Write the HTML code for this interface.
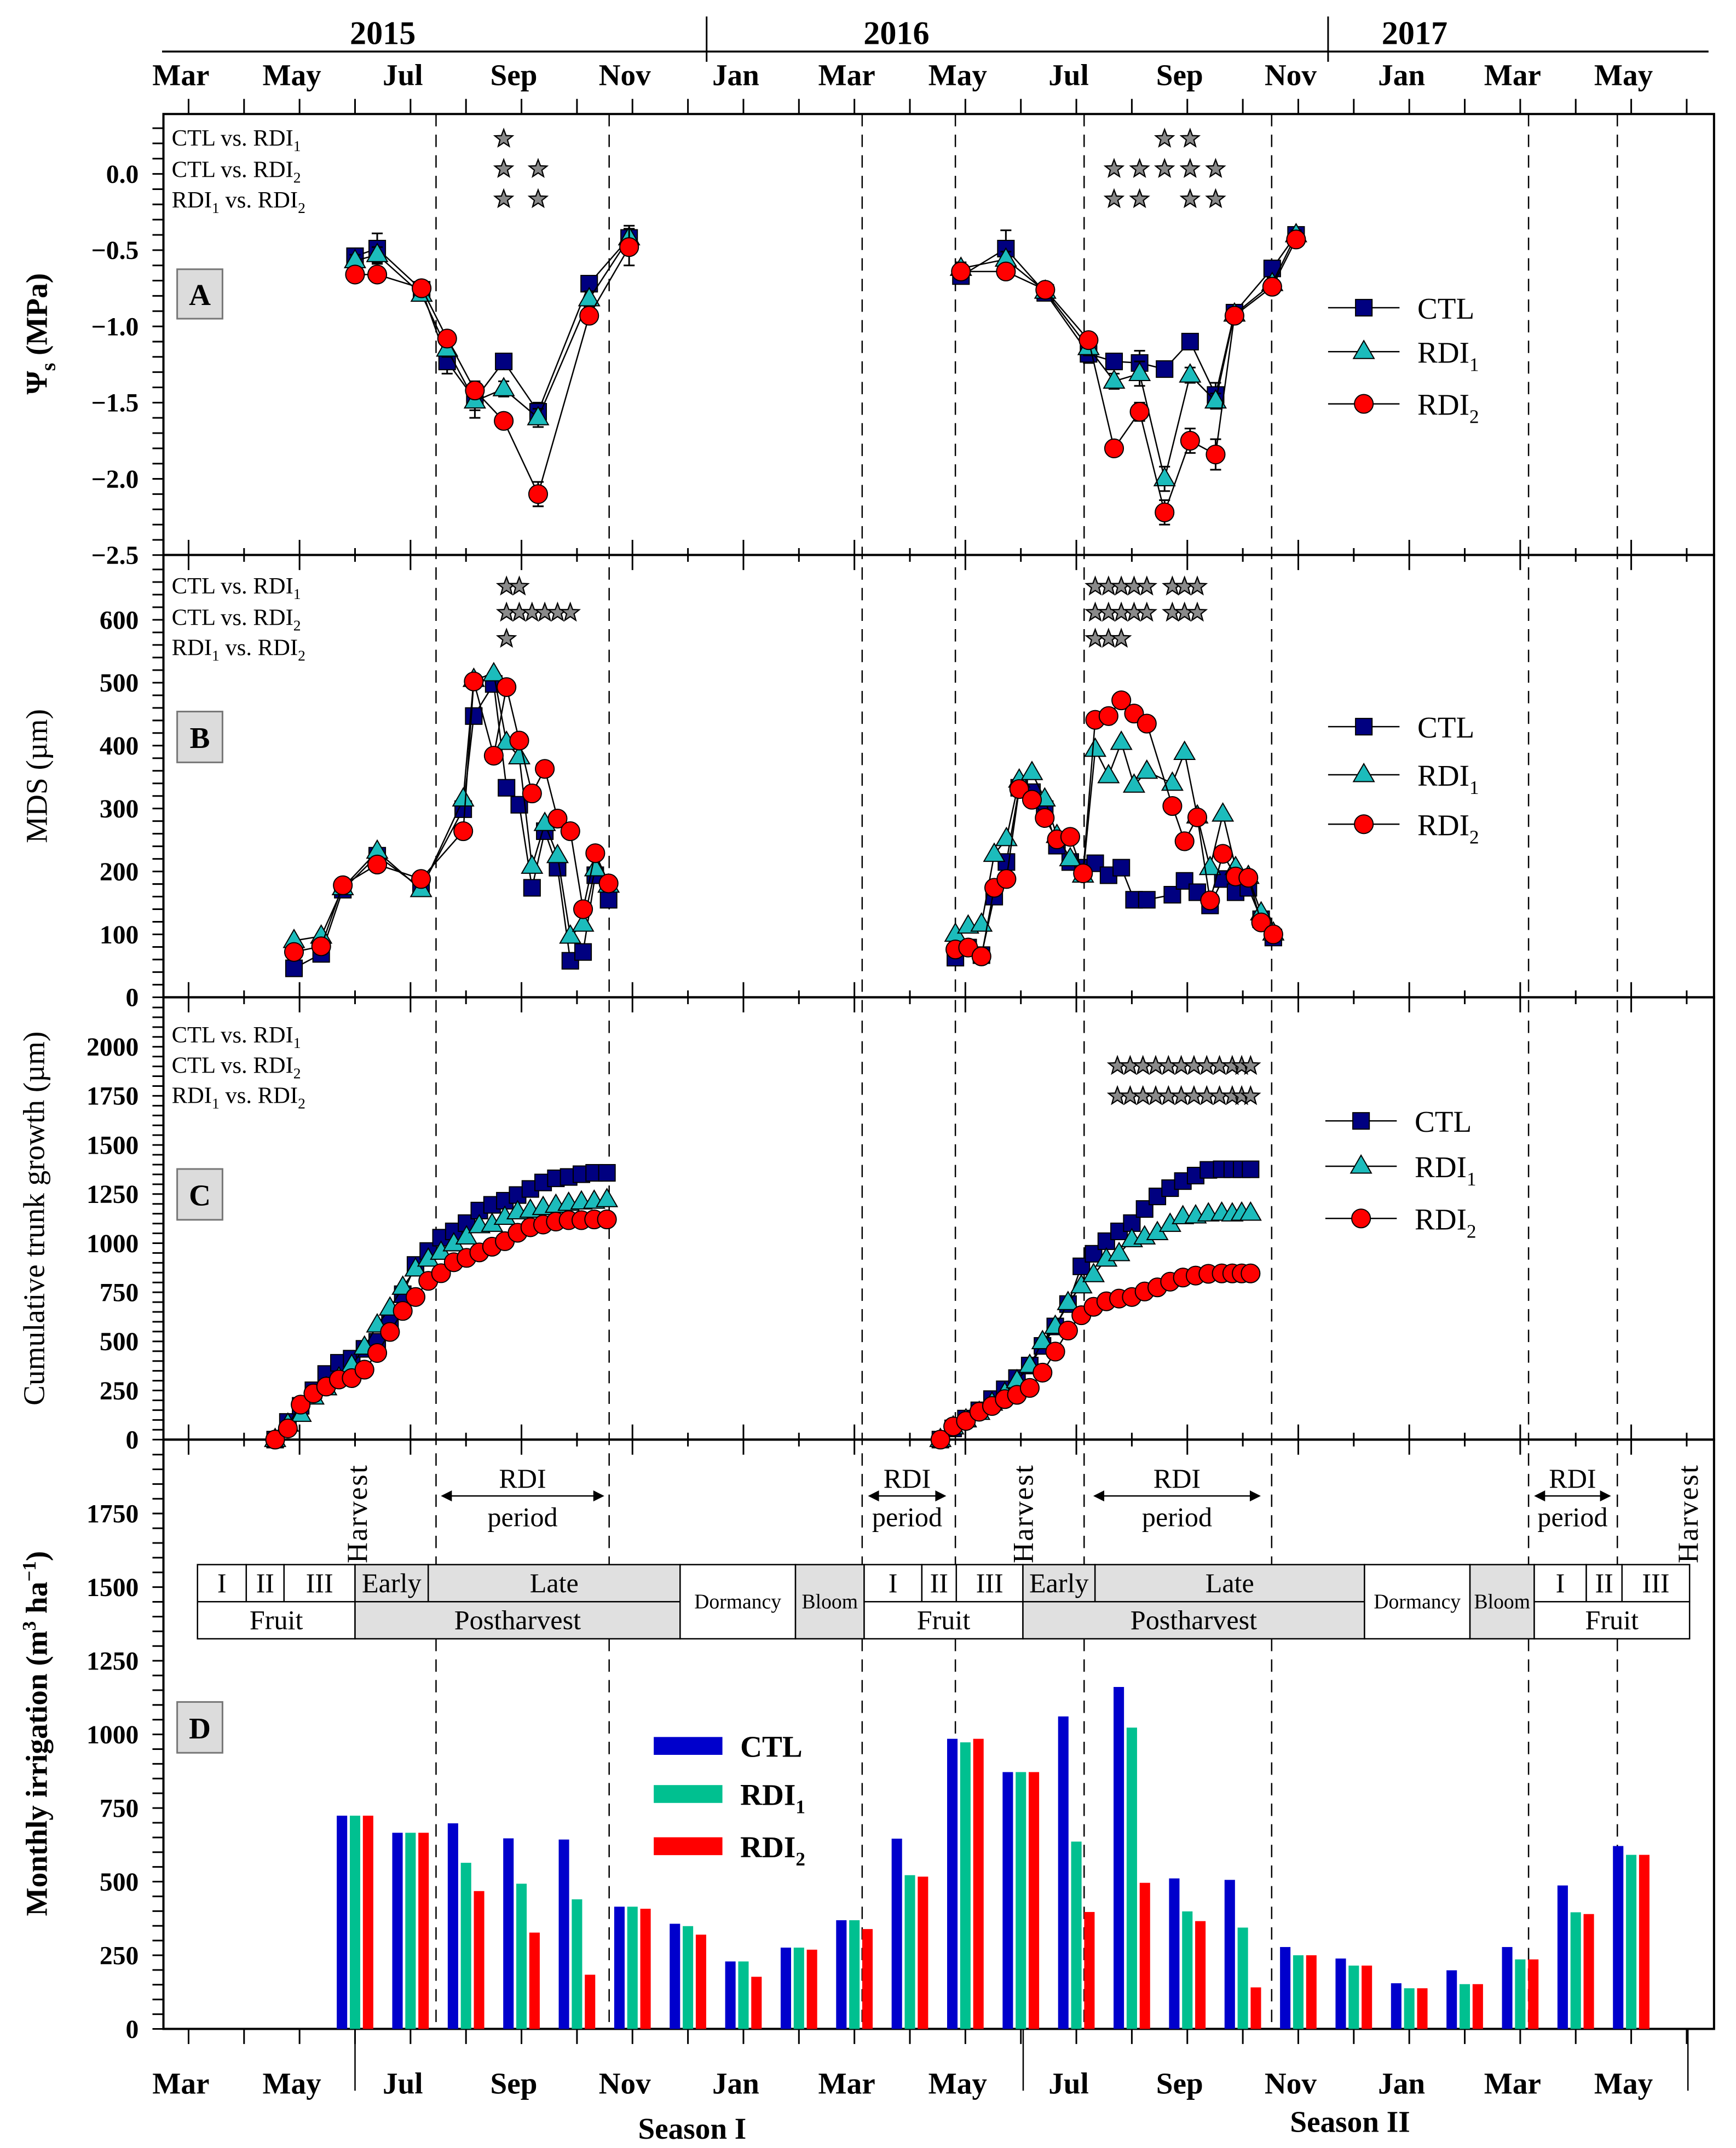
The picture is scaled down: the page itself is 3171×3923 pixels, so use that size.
<!DOCTYPE html>
<html><head><meta charset="utf-8">
<style>
html,body{margin:0;padding:0;background:#fff;}
svg{display:block;}
text{font-family:"Liberation Serif",serif;fill:#000;}
</style></head>
<body>
<svg id="chart" xmlns="http://www.w3.org/2000/svg" width="3171" height="3923" viewBox="0 0 1264 1563.7" preserveAspectRatio="none">
<rect x="0" y="0" width="1264" height="1564" fill="#fff"/>
<g id="g-grid"></g>
<g id="g-axes"></g>
<g id="g-table"></g>
<g id="g-marks"></g>
<g id="g-text">
  <text x="278.7" y="32" font-size="24" font-weight="bold" text-anchor="middle">2015</text>
  <text x="652.7" y="32" font-size="24" font-weight="bold" text-anchor="middle">2016</text>
  <text x="1030" y="32" font-size="24" font-weight="bold" text-anchor="middle">2017</text>
  <text transform="translate(34,243) rotate(-90)" font-size="22" font-weight="bold" text-anchor="middle">Ψ<tspan font-size="15" dy="6">s</tspan><tspan dy="-6"> (MPa)</tspan></text>
  <text transform="translate(34,565) rotate(-90)" font-size="22" text-anchor="middle">MDS (µm)</text>
  <text transform="translate(32,887) rotate(-90)" font-size="22" text-anchor="middle">Cumulative trunk growth (µm)</text>
  <text transform="translate(34,1262) rotate(-90)" font-size="22" font-weight="bold" text-anchor="middle">Monthly irrigation (m<tspan font-size="14" dy="-8">3</tspan><tspan dy="8"> ha</tspan><tspan font-size="14" dy="-8">−1</tspan><tspan dy="8">)</tspan></text>
  <text x="504" y="1557" font-size="22" font-weight="bold" text-anchor="middle">Season I</text>
  <text x="983" y="1552" font-size="22" font-weight="bold" text-anchor="middle">Season II</text>
</g>
</svg>
<script>
// ---------- data ----------
// x = months since 1 Mar 2015
const seasonLines = [4.46, 7.58, 12.14, 13.82, 16.14, 19.52, 24.15, 25.75];
const monthLabels = ["Mar","May","Jul","Sep","Nov","Jan","Mar","May","Jul","Sep","Nov","Jan","Mar","May"];

// Panel A: stem water potential (MPa)
const aDates = [3.00,3.40,4.20,4.66,5.16,5.68,6.30,7.22,7.94, 13.92,14.73,15.44,16.22,16.68,17.14,17.59,18.05,18.51,18.85,19.53,19.96];
const aCTL  = [-0.54,-0.49,-0.76,-1.23,-1.48,-1.23,-1.56,-0.72,-0.42, -0.67,-0.49,-0.78,-1.18,-1.23,-1.24,-1.28,-1.10,-1.45,-0.91,-0.62,-0.40];
const aRDI1 = [-0.57,-0.53,-0.79,-1.15,-1.49,-1.41,-1.60,-0.82,-0.42, -0.62,-0.56,-0.77,-1.14,-1.36,-1.31,-2.00,-1.32,-1.49,-0.92,-0.72,-0.40];
const aRDI2 = [-0.66,-0.66,-0.75,-1.08,-1.42,-1.62,-2.10,-0.93,-0.48, -0.64,-0.64,-0.76,-1.09,-1.80,-1.56,-2.22,-1.75,-1.84,-0.93,-0.74,-0.43];
const aErrCTL  = [0.04,0.10,0.05,0.08,0.12,0.04,0.06,0.05,0.08, 0.05,0.12,0.05,0.06,0.04,0.08,0.05,0.04,0.08,0.04,0.05,0.03];
const aErrRDI1 = [0.04,0.05,0.04,0.05,0.06,0.05,0.06,0.05,0.06, 0.04,0.05,0.04,0.05,0.05,0.08,0.08,0.05,0.05,0.04,0.04,0.03];
const aErrRDI2 = [0.03,0.03,0.04,0.04,0.05,0.04,0.08,0.04,0.12, 0.04,0.04,0.04,0.04,0.05,0.06,0.08,0.08,0.10,0.04,0.04,0.03];
const aStars1 = [5.68, 17.59,18.05];
const aStars2 = [5.68,6.30, 16.68,17.14,17.59,18.05,18.51];
const aStars3 = [5.68,6.30, 16.68,17.14,18.05,18.51];

// Panel B: MDS (µm)
const bDates = [1.90,2.39,2.78,3.40,4.19,4.95,5.14,5.50,5.73,5.96,6.19,6.42,6.65,6.88,7.11,7.33,7.57,
  13.82,14.05,14.29,14.52,14.74,14.97,15.20,15.43,15.65,15.89,16.12,16.34,16.58,16.81,17.04,17.27,17.73,17.95,18.18,18.41,18.64,18.87,19.10,19.33,19.55];
const bCTL  = [46,69,171,225,174,299,447,498,333,306,174,264,206,58,72,194,155,
  63,79,67,160,215,333,326,299,241,215,206,213,194,206,155,155,163,185,167,146,188,167,174,124,95];
const bRDI1 = [90,97,174,232,171,315,505,514,405,382,208,276,225,97,116,204,178,
  100,113,116,227,252,345,357,315,257,220,194,394,352,405,337,359,340,389,288,206,291,206,192,134,102];
const bRDI2 = [72,81,178,211,188,264,502,384,493,408,324,363,284,264,140,229,181,
  76,79,65,174,188,331,314,285,251,255,197,441,447,472,451,435,304,248,286,154,228,192,190,119,100];
const bStars1 = [5.73,5.96, 16.34,16.58,16.81,17.04,17.27,17.73,17.95,18.18];
const bStars2 = [5.73,5.96,6.19,6.42,6.65,6.88, 16.34,16.58,16.81,17.04,17.27,17.73,17.95,18.18];
const bStars3 = [5.73, 16.34,16.58,16.81];

// Panel C: cumulative trunk growth (µm)
const cDates1 = [1.56,1.79,2.02,2.25,2.48,2.71,2.94,3.17,3.40,3.63,3.86,4.09,4.32,4.55,4.78,5.01,5.24,5.47,5.70,5.93,6.16,6.39,6.62,6.85,7.08,7.31,7.54];
const cCTL1  = [0,90,172,251,334,391,412,462,498,604,740,889,960,1028,1060,1102,1166,1195,1216,1245,1276,1309,1330,1337,1351,1358,1358];
const cRDI11 = [0,78,128,216,263,313,377,470,583,669,775,868,918,953,996,1031,1088,1095,1131,1159,1167,1181,1192,1202,1209,1213,1221];
const cRDI21 = [0,57,178,235,270,306,313,356,441,548,655,726,808,847,903,925,953,982,1010,1053,1081,1095,1110,1117,1117,1121,1121];
const cDates2 = [13.55,13.78,14.01,14.25,14.48,14.71,14.93,15.16,15.39,15.62,15.85,16.09,16.31,16.54,16.77,17.00,17.23,17.46,17.69,17.92,18.15,18.38,18.62,18.81,18.98,19.14];
const cCTL2  = [0,57,107,149,206,256,313,377,477,576,690,882,946,1010,1060,1102,1174,1238,1280,1316,1344,1373,1376,1376,1376,1376];
const cRDI12 = [0,64,100,138,185,235,299,377,498,576,697,782,839,918,946,1017,1031,1053,1095,1134,1138,1148,1152,1148,1152,1152];
const cRDI22 = [0,67,95,142,171,206,228,263,341,448,555,633,676,704,718,726,754,775,804,825,835,844,846,846,846,846];
const cStars = [16.74,16.97,17.20,17.43,17.66,17.89,18.12,18.35,18.58,18.81,18.98,19.14];

// Panel D: monthly irrigation (m3/ha), months Jun 2015 .. May 2017
const dMonths = [3,4,5,6,7,8,9,10,11,12,13,14,15,16,17,18,19,20,21,22,23,24,25,26];
const dCTL  = [724,666,698,647,643,415,357,229,276,369,646,985,872,1061,1161,511,506,278,239,155,199,278,487,621];
const dRDI1 = [724,666,564,493,440,415,349,229,276,369,522,973,872,636,1023,399,344,250,215,138,152,236,396,591];
const dRDI2 = [724,666,468,327,184,408,320,177,269,339,517,985,872,397,496,366,141,250,215,138,152,236,390,591];

// ---------- scales ----------
const NS = "http://www.w3.org/2000/svg";
const X  = t => 137.3 + 40.4 * t;
const yA = v => 126.6 - v * 111;
const yB = v => 726 - v * 0.458;
const yC = v => 1048 - v * 0.143;
const yD = v => 1477 - v * 0.2144;
const L = 119, R = 1248;
const COL = {ctl:"#000080", r1:"#1cbcbc", r2:"#ff0000"};

function mk(tag, attrs, parent){
  const el = document.createElementNS(NS, tag);
  for (const k in attrs) el.setAttribute(k, attrs[k]);
  parent.appendChild(el);
  return el;
}
const gGrid = document.getElementById('g-grid');
const gAxes = document.getElementById('g-axes');
const gTable = document.getElementById('g-table');
const gMarks = document.getElementById('g-marks');
const gText = document.getElementById('g-text');

// season dashed lines
seasonLines.forEach(t => {
  const el = mk('line', {x1:X(t), x2:X(t), y1:83, y2:1477, stroke:'#000', 'stroke-width':1, 'stroke-dasharray':'9,6'}, gGrid);
  
  
});

// frames
[[83,404,'a'],[404,726,'b'],[726,1048,'c'],[1048,1477,'d']].forEach(p => {
  const el = mk('rect', {x:L, y:p[0], width:R-L, height:p[1]-p[0], fill:'none', stroke:'#000', 'stroke-width':1.6}, gAxes);
  
  
});
// top axis line & year separators
let tl = mk('line', {x1:118, x2:1244, y1:37.5, y2:37.5, stroke:'#000', 'stroke-width':1.4}, gAxes);


[514.5, 967].forEach(x => {
  const el = mk('line', {x1:x, x2:x, y1:12, y2:45, stroke:'#000', 'stroke-width':1.2}, gAxes);
  
  
});
// month ticks
for (let k = 0; k <= 27; k++) {
  const x = X(k);
  const top = mk('line', {x1:x, x2:x, y1:72, y2:83, stroke:'#000', 'stroke-width':1.2}, gAxes);
  
  
  const bot = mk('line', {x1:x, x2:x, y1:1477, y2:1488, stroke:'#000', 'stroke-width':1.2}, gAxes);
  
  
  const len = (k % 2 === 0) ? 11 : 5;
  [404, 726, 1048].forEach(y => {
    const el = mk('line', {x1:x, x2:x, y1:y-len, y2:y+len, stroke:'#000', 'stroke-width':1.2}, gAxes);
    
    
  });
}
monthLabels.forEach((m, j) => {
  const x = X(2*j) - 5.6;
  const t1 = mk('text', {x:x, y:62, 'font-size':22, 'font-weight':'bold', 'text-anchor':'middle'}, gText);
  t1.textContent = m;
  
  
  const t2 = mk('text', {x:x, y:1524, 'font-size':22, 'font-weight':'bold', 'text-anchor':'middle'}, gText);
  t2.textContent = m;
  
  
});
[258.5, 745, 1229].forEach(x => {
  const el = mk('line', {x1:x, x2:x, y1:1477, y2:1522, stroke:'#000', 'stroke-width':1}, gAxes);
  
  
});

// y axes
function yAxis(scale, lo, hi, minorStep, majorStep, fmt, top, bottom, name){
  const n = Math.floor((hi - lo) / minorStep + 1e-6);
  for (let i = 0; i <= n; i++) {
    const v = lo + i * minorStep;
    const y = scale(v);
    if (y < top - 0.5 || y > bottom + 0.5) continue;
    const el = mk('line', {x1:L-8, x2:L, y1:y, y2:y, stroke:'#000', 'stroke-width':1.2}, gAxes);
    
    
    const r = v / majorStep;
    if (Math.abs(r - Math.round(r)) < 1e-6) {
      const tx = mk('text', {x:101, y:y+6.5, 'font-size':19, 'font-weight':'bold', 'text-anchor':'end'}, gText);
      tx.textContent = fmt(v);
      
      
    }
  }
}
yAxis(yA, -2.5, 0.3, 0.1, 0.5, v => (v < -0.001 ? '−' : '') + Math.abs(v).toFixed(1), 83, 404, 'y-axis-a');
yAxis(yB, 0, 680, 20, 100, v => String(Math.round(v)), 405, 726, 'y-axis-b');
yAxis(yC, 0, 2200, 50, 250, v => String(Math.round(v)), 727, 1048, 'y-axis-c');
yAxis(yD, 0, 1950, 50, 250, v => String(Math.round(v)), 1049, 1477, 'y-axis-d');

// panel letter boxes
[['A',196,232],['B',518,555],['C',851,888],['D',1239,1276]].forEach(p => {
  const r = mk('rect', {x:129, y:p[1], width:33, height:p[2]-p[1], fill:'#dcdcdc', stroke:'#777', 'stroke-width':1.2}, gText);
  
  
  const t = mk('text', {x:145.5, y:(p[1]+p[2])/2+8, 'font-size':22, 'font-weight':'bold', 'text-anchor':'middle'}, gText);
  t.textContent = p[0];
  
  
});

// comparison row labels
function compLabels(ys){
  const labs = [['CTL vs. RDI','1',''],['CTL vs. RDI','2',''],['RDI','1',' vs. RDI','2']];
  labs.forEach((lb, i) => {
    const t = mk('text', {x:125, y:ys[i]+5, 'font-size':17}, gText);
    
    
    if (i < 2) {
      t.innerHTML = lb[0] + '<tspan font-size="11" dy="4">' + lb[1] + '</tspan>';
    } else {
      t.innerHTML = 'RDI<tspan font-size="11" dy="4">1</tspan><tspan dy="-4"> vs. RDI</tspan><tspan font-size="11" dy="4">2</tspan>';
    }
  });
}
compLabels([101,124,146]);
compLabels([427,450,472]);
compLabels([754,776,798]);

// stars
function starPath(cx, cy, R0){
  let d = '';
  for (let i = 0; i < 10; i++) {
    const r = (i % 2 === 0) ? R0 : R0 * 0.42;
    const a = -Math.PI/2 + i * Math.PI / 5;
    d += (i === 0 ? 'M' : 'L') + (cx + r*Math.cos(a)).toFixed(2) + ',' + (cy + r*Math.sin(a)).toFixed(2);
  }
  return d + 'Z';
}
function stars(ts, y){
  ts.forEach(t => {
    const el = mk('path', {d:starPath(X(t), y, 6.8), fill:'#8a8a8a', stroke:'#000', 'stroke-width':0.9}, gMarks);
    
    
  });
}
stars(aStars1, 101); stars(aStars2, 123); stars(aStars3, 145);
stars(bStars1, 427); stars(bStars2, 446); stars(bStars3, 465);
stars(cStars, 776); stars(cStars, 798);

// markers
function marker(kind, x, y, parent, name){
  let el;
  if (kind === 'sq') el = mk('rect', {x:x-6, y:y-6, width:12, height:12, fill:COL.ctl, stroke:'#000', 'stroke-width':0.8}, parent);
  else if (kind === 'tri') el = mk('path', {d:`M${x},${y-8}L${x+7.5},${y+5}L${x-7.5},${y+5}Z`, fill:COL.r1, stroke:'#000', 'stroke-width':0.8}, parent);
  else el = mk('circle', {cx:x, cy:y, r:6.8, fill:COL.r2, stroke:'#000', 'stroke-width':0.8}, parent);
  
  
  return el;
}
function series(dates, vals, scale, kind, name, errs, breakAt){
  const g = mk('g', {}, gMarks);
  
  
  let segs = [[]];
  dates.forEach((t, i) => {
    if (breakAt !== undefined && i === breakAt) segs.push([]);
    segs[segs.length-1].push(X(t).toFixed(2) + ',' + scale(vals[i]).toFixed(2));
  });
  segs.forEach(s => {
    const pl = mk('polyline', {points:s.join(' '), fill:'none', stroke:'#000', 'stroke-width':1}, g);
    
    
  });
  if (errs) {
    dates.forEach((t, i) => {
      const x = X(t), y1 = scale(vals[i] + errs[i]), y2 = scale(vals[i] - errs[i]);
      const e = mk('path', {d:`M${x},${y1}L${x},${y2}M${x-4},${y1}L${x+4},${y1}M${x-4},${y2}L${x+4},${y2}`, stroke:'#000', 'stroke-width':1.2, fill:'none'}, g);
      
      
    });
  }
  dates.forEach((t, i) => marker(kind, X(t), scale(vals[i]), g, name + '-point'));
}
// Panel A
series(aDates, aCTL, yA, 'sq', 'a-ctl-series', aErrCTL, 9);
series(aDates, aRDI1, yA, 'tri', 'a-rdi1-series', aErrRDI1, 9);
series(aDates, aRDI2, yA, 'circ', 'a-rdi2-series', aErrRDI2, 9);
// Panel B
series(bDates, bCTL, yB, 'sq', 'b-ctl-series', null, 17);
series(bDates, bRDI1, yB, 'tri', 'b-rdi1-series', null, 17);
series(bDates, bRDI2, yB, 'circ', 'b-rdi2-series', null, 17);
// Panel C
series(cDates1, cCTL1, yC, 'sq', 'c-ctl-2015-series');
series(cDates1, cRDI11, yC, 'tri', 'c-rdi1-2015-series');
series(cDates1, cRDI21, yC, 'circ', 'c-rdi2-2015-series');
series(cDates2, cCTL2, yC, 'sq', 'c-ctl-2016-series');
series(cDates2, cRDI12, yC, 'tri', 'c-rdi1-2016-series');
series(cDates2, cRDI22, yC, 'circ', 'c-rdi2-2016-series');

// legends A-C
function legend(ys, x0){
  const items = [['sq','CTL',''],['tri','RDI','1'],['circ','RDI','2']];
  items.forEach((it, i) => {
    const y = ys[i];
    const ln = mk('line', {x1:x0, x2:x0+52, y1:y, y2:y, stroke:'#000', 'stroke-width':1}, gMarks);
    
    
    marker(it[0], x0+26, y, gMarks, 'legend-marker');
    const t = mk('text', {x:x0+65, y:y+8, 'font-size':22}, gText);
    t.innerHTML = it[1] + (it[2] ? '<tspan font-size="14" dy="6">' + it[2] + '</tspan>' : '');
    
    
  });
}
legend([224,256,294], 967);
legend([529,564,600], 967);
legend([816,849,887], 965);

// Panel D bars
const barCols = ['#0000cc', '#00c090', '#ff0000'];
const barSets = [dCTL, dRDI1, dRDI2];
const barNames = ['bar-ctl', 'bar-rdi1', 'bar-rdi2'];
dMonths.forEach((m, i) => {
  [-9.5, 0, 9.5].forEach((off, s) => {
    const v = barSets[s][i];
    const x = X(m) + off - 3.8;
    const el = mk('rect', {x:x, y:yD(v), width:7.6, height:yD(0)-yD(v), fill:barCols[s]}, gMarks);
    
    
  });
});
// D legend
[['CTL','',1271],['RDI','1',1306],['RDI','2',1344]].forEach((it, i) => {
  const r = mk('rect', {x:476, y:it[2]-6.5, width:50, height:13, fill:barCols[i]}, gMarks);
  
  
  const t = mk('text', {x:539, y:it[2]+8, 'font-size':22, 'font-weight':'bold'}, gText);
  t.innerHTML = it[0] + (it[1] ? '<tspan font-size="14" dy="6">' + it[1] + '</tspan>' : '');
  
  
});

// phenology table
const T0 = 1139, T1 = 1166, T2 = 1193;
const cells = [
  [143.8,179.3,T0,T1,'I',0,20],[179.3,206.8,T0,T1,'II',0,20],[206.8,258.5,T0,T1,'III',0,20],
  [258.5,311.8,T0,T1,'Early',1,20],[311.8,495.2,T0,T1,'Late',1,20],
  [143.8,258.5,T1,T2,'Fruit',0,20],[258.5,495.2,T1,T2,'Postharvest',1,20],
  [495.2,579.2,T0,T2,'Dormancy',0,15],[579.2,629.2,T0,T2,'Bloom',1,15],
  [629.2,671.2,T0,T1,'I',0,20],[671.2,696.3,T0,T1,'II',0,20],[696.3,744.8,T0,T1,'III',0,20],
  [744.8,797.3,T0,T1,'Early',1,20],[797.3,993.5,T0,T1,'Late',1,20],
  [629.2,744.8,T1,T2,'Fruit',0,20],[744.8,993.5,T1,T2,'Postharvest',1,20],
  [993.5,1070.3,T0,T2,'Dormancy',0,15],[1070.3,1117.1,T0,T2,'Bloom',1,15],
  [1117.1,1155,T0,T1,'I',0,20],[1155,1181,T0,T1,'II',0,20],[1181,1230.2,T0,T1,'III',0,20],
  [1117.1,1230.2,T1,T2,'Fruit',0,20]
];
cells.forEach(c => {
  const r = mk('rect', {x:c[0], y:c[2], width:c[1]-c[0], height:c[3]-c[2], fill:c[5] ? '#e0e0e0' : '#fff', stroke:'#000', 'stroke-width':1}, gTable);
  
  
  const t = mk('text', {x:(c[0]+c[1])/2, y:(c[2]+c[3])/2 + c[6]*0.33, 'font-size':c[6], 'text-anchor':'middle'}, gTable);
  t.textContent = c[4];
  
  
});
// harvest labels
[260, 745, 1229].forEach(x => {
  const t = mk('text', {transform:`translate(${x+7},1138) rotate(-90)`, 'font-size':21, 'letter-spacing':'1'}, gTable);
  t.textContent = 'Harvest';
  
  
});
// RDI period arrows
[[321,440],[632,689],[796,918],[1117,1173]].forEach(a => {
  const cx = (a[0]+a[1])/2;
  const p = mk('path', {d:`M${a[0]+6},1089L${a[1]-6},1089`, stroke:'#000', 'stroke-width':1}, gTable);
  
  
  const h = mk('path', {d:`M${a[0]},1089L${a[0]+8},1085L${a[0]+8},1093Z M${a[1]},1089L${a[1]-8},1085L${a[1]-8},1093Z`, fill:'#000'}, gTable);
  
  
  const t1 = mk('text', {x:cx, y:1083, 'font-size':20, 'text-anchor':'middle'}, gTable);
  t1.textContent = 'RDI';
  
  
  const t2 = mk('text', {x:cx, y:1111, 'font-size':20, 'text-anchor':'middle'}, gTable);
  t2.textContent = 'period';
  
  
});
</script>
</body></html>
